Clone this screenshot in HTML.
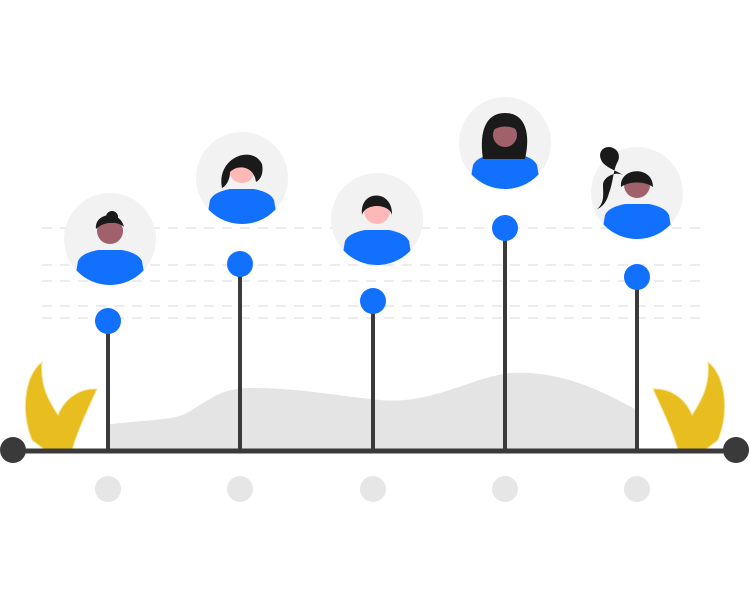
<!DOCTYPE html>
<html><head><style>html,body{margin:0;padding:0;background:#fff}svg{display:block}</style></head>
<body>
<svg width="750" height="600" viewBox="0 0 750 600" xmlns="http://www.w3.org/2000/svg">
<defs>
<clipPath id="c"><circle cx="0" cy="0" r="46"/></clipPath>
<g id="av">
<circle cx="0" cy="0" r="46" fill="#f2f2f2"/>
<g clip-path="url(#c)">
<path d="M-36,46 L-32,22 C-29,16 -22,13 -12,11 L12,11 C22,13 29,16 32,22 L36,46 Z" fill="#1270ff"/>
</g>
</g>
</defs>
<g stroke="#e6e6e6" stroke-width="1.5" stroke-dasharray="10,8">
<line x1="42" y1="228" x2="705" y2="228"/>
<line x1="42" y1="265" x2="705" y2="265"/>
<line x1="42" y1="281" x2="705" y2="281"/>
<line x1="42" y1="306" x2="705" y2="306"/>
<line x1="42" y1="318" x2="705" y2="318"/>
</g>
<path d="M110,450 L110,424 C150,420 170,420 185,414 C210,400 220,388 250,388 C300,388 330,395 380,400 C430,405 470,378 510,373 C560,370 600,390 637,410 L637,450 Z" fill="#e4e4e4"/>
<g fill="#e8bd20" stroke="#f8e59a" stroke-width="1">
<path d="M42,362 C25,375 20,410 32,440 L45,450 L72,450 C78,430 85,415 97,389 C80,388 65,398 58,415 C48,400 40,385 42,362 Z"/>
<path d="M708,362 C725,375 730,410 718,440 L705,450 L678,450 C672,430 665,415 653,389 C670,388 685,398 692,415 C702,400 710,385 708,362 Z"/>
</g>
<g stroke="#3a3a3a" stroke-width="4">
<line x1="108" y1="321" x2="108" y2="450"/>
<line x1="240" y1="264" x2="240" y2="450"/>
<line x1="373" y1="301" x2="373" y2="450"/>
<line x1="505" y1="228" x2="505" y2="450"/>
<line x1="637" y1="277" x2="637" y2="450"/>
</g>
<line x1="13" y1="451" x2="736" y2="451" stroke="#3a3a3a" stroke-width="5"/>
<circle cx="13" cy="450" r="13" fill="#3a3a3a"/>
<circle cx="736" cy="450" r="13" fill="#3a3a3a"/>
<g fill="#1270ff">
<circle cx="108" cy="321" r="13"/><circle cx="240" cy="264" r="13"/><circle cx="373" cy="301" r="13"/><circle cx="505" cy="228" r="13"/><circle cx="637" cy="277" r="13"/>
</g>
<g fill="#e6e6e6">
<circle cx="108" cy="489" r="13"/><circle cx="240" cy="489" r="13"/><circle cx="373" cy="489" r="13"/><circle cx="505" cy="489" r="13"/><circle cx="637" cy="489" r="13"/>
</g>
<g transform="translate(110,239)"><use href="#av"/><circle cx="0" cy="-8" r="13" fill="#a0616a"/><path d="M-14,-10 C-16,-26 10,-30 14,-12 C8,-18 -6,-18 -14,-10Z" fill="#1a1a1a"/><circle cx="2" cy="-22" r="6" fill="#1a1a1a"/></g>
<g transform="translate(242,178)"><use href="#av"/><circle cx="0" cy="-8" r="13" fill="#ffb8b8"/><path d="M-20,10 C-26,-20 10,-34 20,-14 C22,-4 18,2 14,4 C12,-12 -4,-14 -12,-6 C-12,2 -16,8 -20,10Z" fill="#1a1a1a"/></g>
<g transform="translate(377,219)"><use href="#av"/><circle cx="0" cy="-8" r="13" fill="#ffb8b8"/><path d="M-15,-4 C-18,-30 16,-30 15,-4 C12,-16 -12,-16 -15,-4Z" fill="#1a1a1a"/></g>
<g transform="translate(505,143)"><use href="#av"/><path d="M-22,16 C-26,-10 -20,-30 0,-30 C20,-30 26,-10 20,16Z" fill="#1a1a1a"/><circle cx="0" cy="-8" r="12" fill="#a0616a"/><path d="M-13,-12 C-10,-26 12,-26 14,-12 C6,-18 -6,-18 -13,-12Z" fill="#1a1a1a"/></g>
<g transform="translate(637,193)"><use href="#av"/><circle cx="0" cy="-8" r="13" fill="#a0616a"/><path d="M-16,-6 C-18,-26 16,-28 16,-6 C8,-12 -8,-12 -16,-6Z" fill="#1a1a1a"/>
<path d="M-14,-18 C-20,-22 -28,-24 -34,-30 C-40,-38 -36,-46 -28,-46 C-18,-45 -16,-36 -20,-30 C-24,-22 -24,-10 -28,0 C-30,8 -34,14 -40,16 C-32,10 -34,0 -34,-8 C-34,-16 -22,-22 -14,-18Z" fill="#1a1a1a"/></g>
</svg>
</body></html>
